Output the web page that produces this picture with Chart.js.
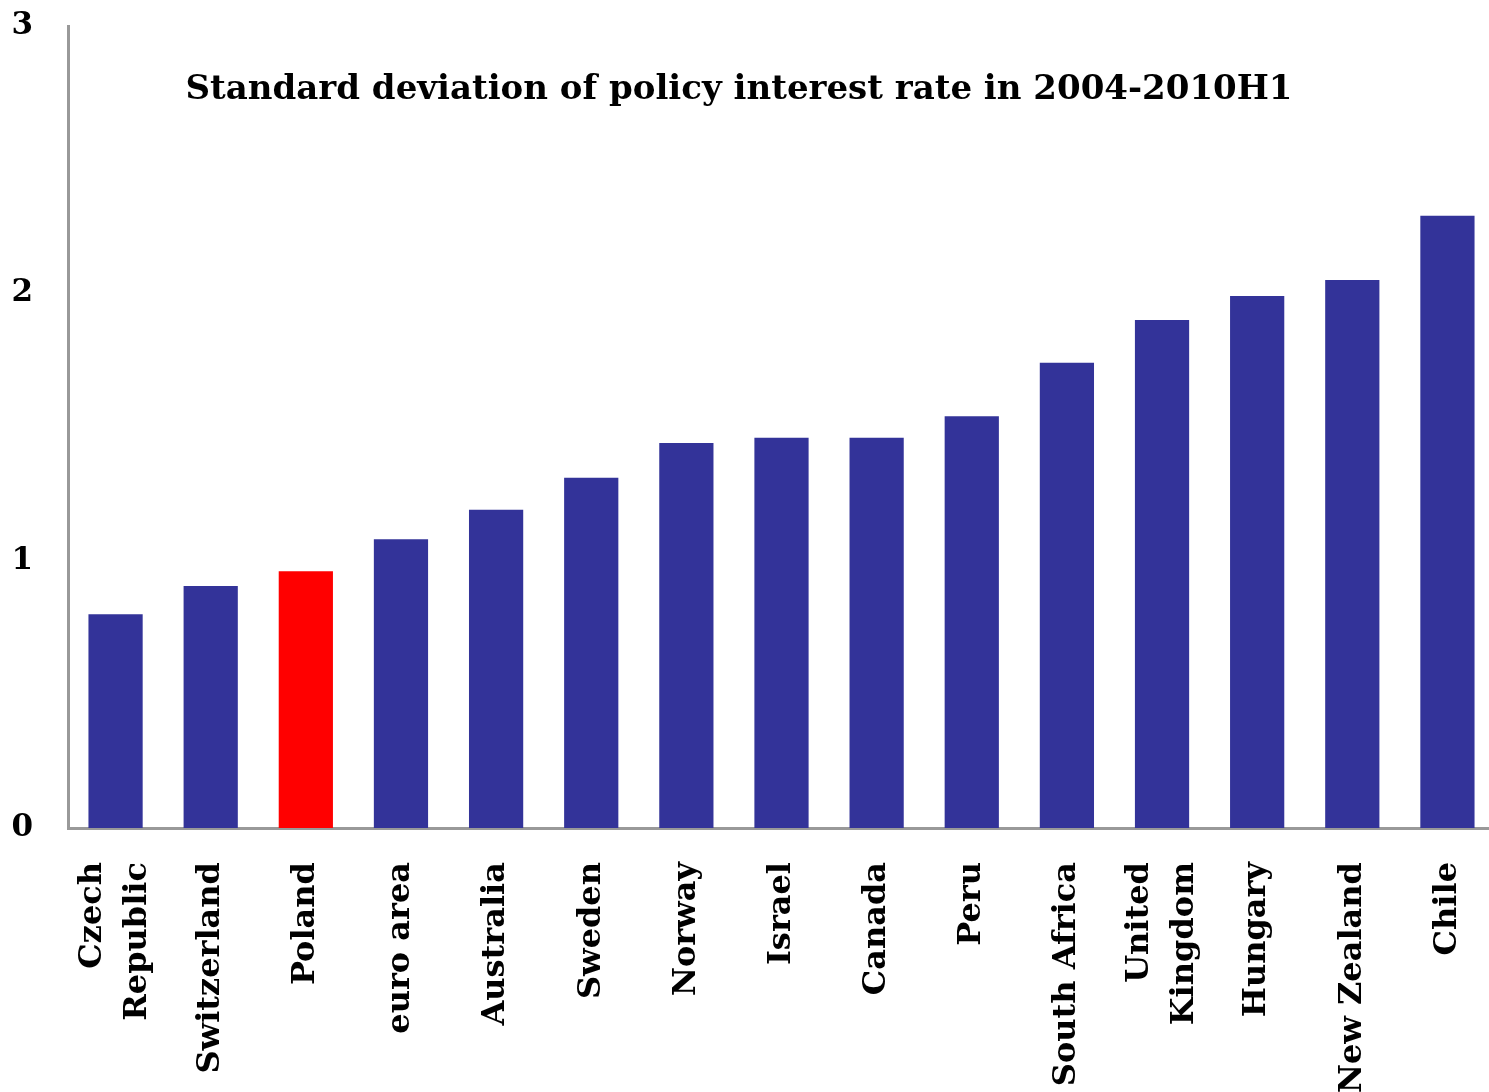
<!DOCTYPE html>
<html>
<head>
<meta charset="utf-8">
<script src="https://cdn.jsdelivr.net/npm/chart.js@4/dist/chart.umd.min.js"></script>
<style>
  html, body { margin: 0; padding: 0; background: #fff; overflow: hidden; }
  #wrap { width: 1495px; height: 1092px; position: relative; }
</style>
</head>
<body>
<div id="wrap"><canvas id="stdChart"></canvas></div>
<script>
// datos del gráfico
const countries = [['Czech', 'Republic'], 'Switzerland', 'Poland', 'euro area', 'Australia', 'Sweden',
    'Norway', 'Israel', 'Canada', 'Peru', 'South Africa', ['United', 'Kingdom'], 'Hungary', 'New Zealand', 'Chile'];
const stdDev = [0.80, 0.905, 0.96, 1.08, 1.19, 1.31, 1.44, 1.46, 1.46, 1.54, 1.74, 1.90, 1.99, 2.05, 2.29];
const highlighted = 'Poland';
const yTicks = [0, 1, 2, 3];
const chartTitle = 'Standard deviation of policy interest rate in 2004-2010H1';

const colors = {
    bar: '#333399',
    highlight: '#ff0000',
    axis: '#999999',
    text: '#000000'
};

const serif = "'DejaVu Serif', serif";

// título dibujado dentro del área del gráfico
const titlePlugin = {
    id: 'insideTitle',
    afterDraw(chart) {
        const ctx = chart.ctx;
        ctx.save();
        ctx.font = "bold 34px " + serif;
        ctx.fillStyle = colors.text;
        ctx.textAlign = 'center';
        ctx.textBaseline = 'middle';
        ctx.fillText(chartTitle, 739, 90);
        ctx.restore();
    }
};

// etiquetas verticales centradas bajo cada barra (también las de dos líneas)
const verticalLabels = {
    id: 'verticalLabels',
    afterDraw(chart) {
        const ctx = chart.ctx;
        const xScale = chart.scales.x;
        const top = xScale.top + 34;
        const lineGap = 45;
        ctx.save();
        ctx.font = "bold 32px " + serif;
        ctx.fillStyle = colors.text;
        ctx.textAlign = 'right';
        ctx.textBaseline = 'middle';
        countries.forEach((label, i) => {
            const lines = Array.isArray(label) ? label : [label];
            const cx = xScale.getPixelForTick(i);
            lines.forEach((line, j) => {
                const lx = cx + (j - (lines.length - 1) / 2) * lineGap;
                ctx.save();
                ctx.translate(lx, top);
                ctx.rotate(-Math.PI / 2);
                ctx.fillText(line, 0, 0);
                ctx.restore();
            });
        });
        ctx.restore();
    }
};

const ctx = document.getElementById('stdChart').getContext('2d');
new Chart(ctx, {
    type: 'bar',
    data: {
        labels: countries,
        datasets: [{
            data: stdDev,
            backgroundColor: countries.map(c => c === highlighted ? colors.highlight : colors.bar),
            borderWidth: 0,
            categoryPercentage: 1,
            barPercentage: 0.57
        }]
    },
    options: {
        responsive: true,
        maintainAspectRatio: false,
        animation: false,
        layout: { padding: { top: 26, right: 0, left: 0, bottom: 0 } },
        plugins: {
            legend: { display: false },
            tooltip: { enabled: false }
        },
        scales: {
            x: {
                grid: { display: false },
                border: { display: true, color: colors.axis, width: 3 },
                ticks: { display: false },
                afterFit(scale) {
                    scale.height = 264;
                    scale.paddingLeft = 0;
                    scale.paddingRight = 0;
                }
            },
            y: {
                min: 0,
                max: 3,
                afterBuildTicks(scale) { scale.ticks = yTicks.map(v => ({ value: v })); },
                grid: { display: false },
                border: { display: true, color: colors.axis, width: 3 },
                ticks: {
                    color: colors.text,
                    font: { family: serif, size: 31, weight: 'bold' },
                    padding: 27
                },
                afterFit(scale) {
                    scale.width = 68;
                    scale.paddingTop = 0;
                    scale.paddingBottom = 0;
                }
            }
        }
    },
    plugins: [titlePlugin, verticalLabels]
});
</script>
</body>
</html>
